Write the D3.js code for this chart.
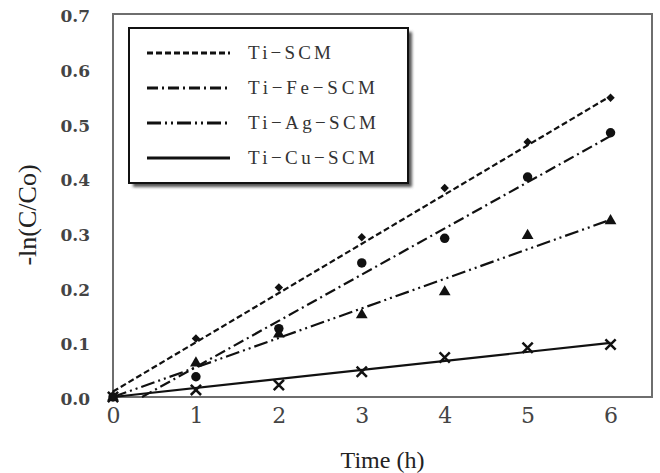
<!DOCTYPE html>
<html lang="en">
<head>
    <meta charset="UTF-8">
    <title>Rate plot</title>
    <script src="https://d3js.org/d3.v7.min.js"></script>
    <style>
        body { margin: 0; background: #fff; }
        .tick text { font-family: "DejaVu Serif", serif; fill: #444; }
        .title { font-family: "Liberation Serif", serif; fill: #222; }
        .legend text { font-family: "Liberation Serif", serif; fill: #333; font-size: 19px; }
    </style>
</head>
<body>
<svg id="svg" width="660" height="473"></svg>

<script>

// values
let times = [0, 1, 2, 3, 4, 5, 6];
let tiSCM = [0, 0.107, 0.200, 0.292, 0.382, 0.466, 0.547];
let tiFeSCM = [0, 0.037, 0.125, 0.245, 0.290, 0.402, 0.483];
let tiAgSCM = [0, 0.062, 0.115, 0.150, 0.192, 0.295, 0.322];
let tiCuSCM = [0, 0.013, 0.022, 0.046, 0.072, 0.090, 0.096];

// trend line end points [time, value]
let fitSCM = [[0, 0.010], [6, 0.550]];
let fitFe = [[0.35, 0], [6, 0.477]];
let fitAg = [[0, 0], [6, 0.324]];
let fitCu = [[0, 0], [6, 0.099]];

let names = ["Ti\u2212SCM", "Ti\u2212Fe\u2212SCM", "Ti\u2212Ag\u2212SCM", "Ti\u2212Cu\u2212SCM"];
let xTicks = [0, 1, 2, 3, 4, 5, 6];
let yTicks = [0, 0.1, 0.2, 0.3, 0.4, 0.5, 0.6, 0.7];

let series = [
    {name: names[0], values: tiSCM, fit: fitSCM, dash: "6,3", symbol: d3.symbolDiamond2, size: 45, nameLen: 83},
    {name: names[1], values: tiFeSCM, fit: fitFe, dash: "11,4,2,4", symbol: d3.symbolCircle, size: 70, nameLen: 127},
    {name: names[2], values: tiAgSCM, fit: fitAg, dash: "14,4,2,4,2,4", symbol: d3.symbolTriangle, size: 60, nameLen: 128},
    {name: names[3], values: tiCuSCM, fit: fitCu, dash: null, symbol: d3.symbolTimes, size: 70, nameLen: 127}
];

let svg = d3.select('#svg');
let plotLeft = 113, plotRight = 652, plotTop = 14, plotBottom = 397;

let x = d3.scaleLinear().domain([0, 6.5]).range([plotLeft, plotRight]);
let y = d3.scaleLinear().domain([0, 0.7]).range([plotBottom, plotTop]);

let defs = svg.append('defs');
defs.append('filter').attr('id', 'blur')
    .append('feGaussianBlur').attr('stdDeviation', 1.5);

// plot frame
svg.append('rect')
    .attr('x', plotLeft).attr('y', plotTop)
    .attr('width', plotRight - plotLeft).attr('height', plotBottom - plotTop)
    .attr('fill', 'none').attr('stroke', '#6e6e6e').attr('stroke-width', 2);

// axes
svg.append('g')
    .attr('transform', `translate(0,${plotBottom})`)
    .call(d3.axisBottom(x).tickValues(xTicks).tickSize(0).tickPadding(10).tickFormat(d3.format('d')))
    .call(g => g.select('.domain').remove())
    .selectAll('text').style('font-size', '22px');

svg.append('g')
    .attr('transform', `translate(${plotLeft},0)`)
    .call(d3.axisLeft(y).tickValues(yTicks).tickSize(0).tickPadding(23).tickFormat(d3.format('.1f')))
    .call(g => g.select('.domain').remove())
    .selectAll('text').style('font-size', '17px').style('font-weight', 'bold').attr('dy', '0.45em');

svg.append('text').attr('class', 'title')
    .attr('x', (plotLeft + plotRight) / 2).attr('y', 468)
    .attr('text-anchor', 'middle').style('font-size', '24px')
    .text('Time (h)');

svg.append('text').attr('class', 'title')
    .attr('transform', 'translate(36,215) rotate(-90)')
    .attr('text-anchor', 'middle').style('font-size', '26px')
    .text('-ln(C/Co)');

// trend lines
let line = d3.line().x(d => x(d[0])).y(d => y(d[1]));
svg.append('g').selectAll('path')
    .data(series)
    .enter()
    .append('path')
    .attr('d', d => line(d.fit))
    .attr('fill', 'none')
    .attr('stroke', '#111')
    .attr('stroke-width', 2.2)
    .attr('stroke-dasharray', d => d.dash);

// markers
series.forEach(s => {
    svg.append('g').selectAll('path')
        .data(s.values)
        .enter()
        .append('path')
        .attr('transform', (v, i) => `translate(${x(times[i])},${y(v)})`)
        .attr('d', d3.symbol().type(s.symbol).size(s.size))
        .attr('fill', s.symbol === d3.symbolTimes ? 'none' : '#111')
        .attr('stroke', '#111')
        .attr('stroke-width', s.symbol === d3.symbolTimes ? 2.5 : 0);
});

// legend
let legend = svg.append('g').attr('class', 'legend');
legend.append('rect')
    .attr('x', 133).attr('y', 32).attr('width', 279).attr('height', 155)
    .attr('fill', '#555').attr('filter', 'url(#blur)');
legend.append('rect')
    .attr('x', 129).attr('y', 28).attr('width', 279).attr('height', 155)
    .attr('fill', '#fff').attr('stroke', '#111').attr('stroke-width', 2);

let rows = legend.selectAll('.row')
    .data(series)
    .enter()
    .append('g')
    .attr('class', 'row')
    .attr('transform', (d, i) => `translate(0,${53 + i * 35})`);

rows.append('line')
    .attr('x1', 147).attr('x2', 230)
    .attr('stroke', '#111').attr('stroke-width', 3)
    .attr('stroke-dasharray', d => d.dash);

rows.append('text')
    .attr('x', 248).attr('y', 6)
    .attr('textLength', d => d.nameLen)
    .attr('lengthAdjust', 'spacing')
    .text(d => d.name);

</script>
</body>
</html>
